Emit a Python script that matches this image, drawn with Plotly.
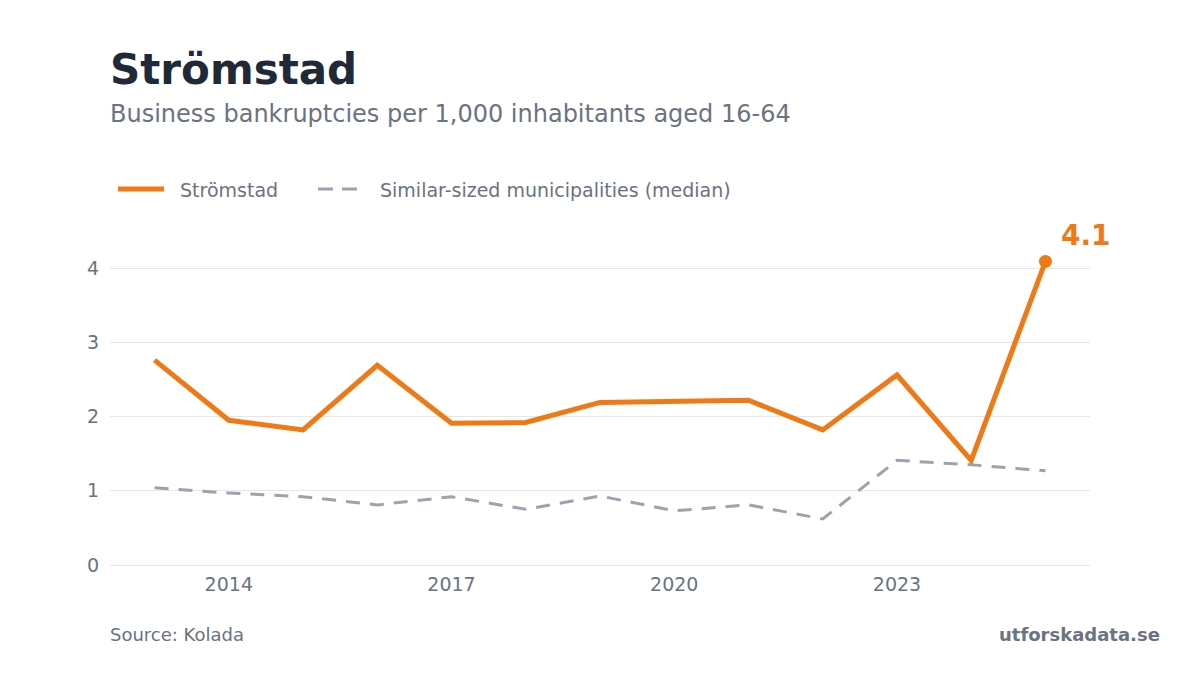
import plotly.graph_objects as go

years = list(range(2013, 2026))
stromstad = [2.76, 1.95, 1.82, 2.69, 1.91, 1.92, 2.19, 2.20, 2.22, 1.82, 2.56, 1.41, 4.09]
median = [1.04, 0.97, 0.92, 0.81, 0.92, 0.75, 0.93, 0.73, 0.81, 0.62, 1.41, 1.35, 1.27]
tick_years = [2014, 2017, 2020, 2023]
y_ticks = [0, 1, 2, 3, 4]

ORANGE = "#ef7915"
GRAY = "#9ca3af"
TEXT = "#6b7280"
FONT = "DejaVu Sans"
DASH = "14px,10px"

L, R, T, B = 110, 110, 231, 110
PW, PH = 1200 - L - R, 675 - T - B


def px(x):
    return (x - L) / PW


def py(y):
    return (675 - B - y) / PH


fig = go.Figure()
fig.add_trace(go.Scatter(
    x=years, y=median, mode="lines", name="Similar-sized municipalities (median)",
    line=dict(color=GRAY, width=3, dash=DASH), showlegend=False,
))
fig.add_trace(go.Scatter(
    x=years, y=stromstad, mode="lines", name="Strömstad",
    line=dict(color=ORANGE, width=5), showlegend=False,
))
fig.add_trace(go.Scatter(
    x=[years[-1]], y=[stromstad[-1]], mode="markers", showlegend=False,
    marker=dict(color=ORANGE, size=13),
))
fig.add_annotation(
    x=years[-1], y=stromstad[-1], text="<b>4.1</b>", showarrow=False,
    xanchor="left", yanchor="bottom", xshift=14, yshift=7,
    font=dict(family=FONT, size=28, color=ORANGE),
)

fig.update_layout(
    width=1200, height=675,
    paper_bgcolor="white", plot_bgcolor="white",
    margin=dict(l=L, r=R, t=T, b=B, autoexpand=False),
    font=dict(family=FONT, color=TEXT, size=19),
    showlegend=False,
    hovermode=False,
    xaxis=dict(
        range=[2012.4, 2025.6], tickvals=tick_years, showgrid=False,
        zeroline=False, showline=False, ticks="", automargin=False,
        tickfont=dict(family=FONT, size=19, color=TEXT), ticklabelstandoff=6,
    ),
    yaxis=dict(
        range=[0, 4.5], tickvals=y_ticks, showgrid=True, gridcolor="#e5e7eb",
        gridwidth=1, zeroline=True, zerolinecolor="#e5e7eb", zerolinewidth=1,
        showline=False, ticks="", automargin=False,
        tickfont=dict(family=FONT, size=19, color=TEXT), ticklabelstandoff=10,
    ),
)

# legend drawn manually
fig.add_shape(type="line", xref="paper", yref="paper",
              x0=px(118), x1=px(164), y0=py(189), y1=py(189),
              line=dict(color=ORANGE, width=5))
fig.add_shape(type="line", xref="paper", yref="paper",
              x0=px(318), x1=px(357), y0=py(189), y1=py(189),
              line=dict(color=GRAY, width=3, dash="15px,9px"))
fig.add_annotation(
    xref="paper", yref="paper", x=px(178), y=py(190), xanchor="left", yanchor="middle",
    text="Strömstad", showarrow=False, font=dict(family=FONT, size=19, color=TEXT),
)
fig.add_annotation(
    xref="paper", yref="paper", x=px(378), y=py(190), xanchor="left", yanchor="middle",
    text="Similar-sized municipalities (median)", showarrow=False,
    font=dict(family=FONT, size=19, color=TEXT),
)

fig.add_annotation(
    xref="paper", yref="paper", x=px(108), y=py(69), xanchor="left", yanchor="middle",
    text="<b>Strömstad</b>", showarrow=False,
    font=dict(family=FONT, size=42, color="#1f2937"),
)
fig.add_annotation(
    xref="paper", yref="paper", x=px(108), y=py(114), xanchor="left", yanchor="middle",
    text="Business bankruptcies per 1,000 inhabitants aged 16-64", showarrow=False,
    font=dict(family=FONT, size=24, color=TEXT),
)
fig.add_annotation(
    xref="paper", yref="paper", x=px(108), y=py(634), xanchor="left", yanchor="middle",
    text="Source: Kolada", showarrow=False,
    font=dict(family=FONT, size=18, color=TEXT),
)
fig.add_annotation(
    xref="paper", yref="paper", x=px(1162), y=py(634), xanchor="right", yanchor="middle",
    text="<b>utforskadata.se</b>", showarrow=False,
    font=dict(family=FONT, size=18, color=TEXT),
)

fig.write_html("out.html", config={"displayModeBar": False},
               post_script="document.body.style.margin='0';")
